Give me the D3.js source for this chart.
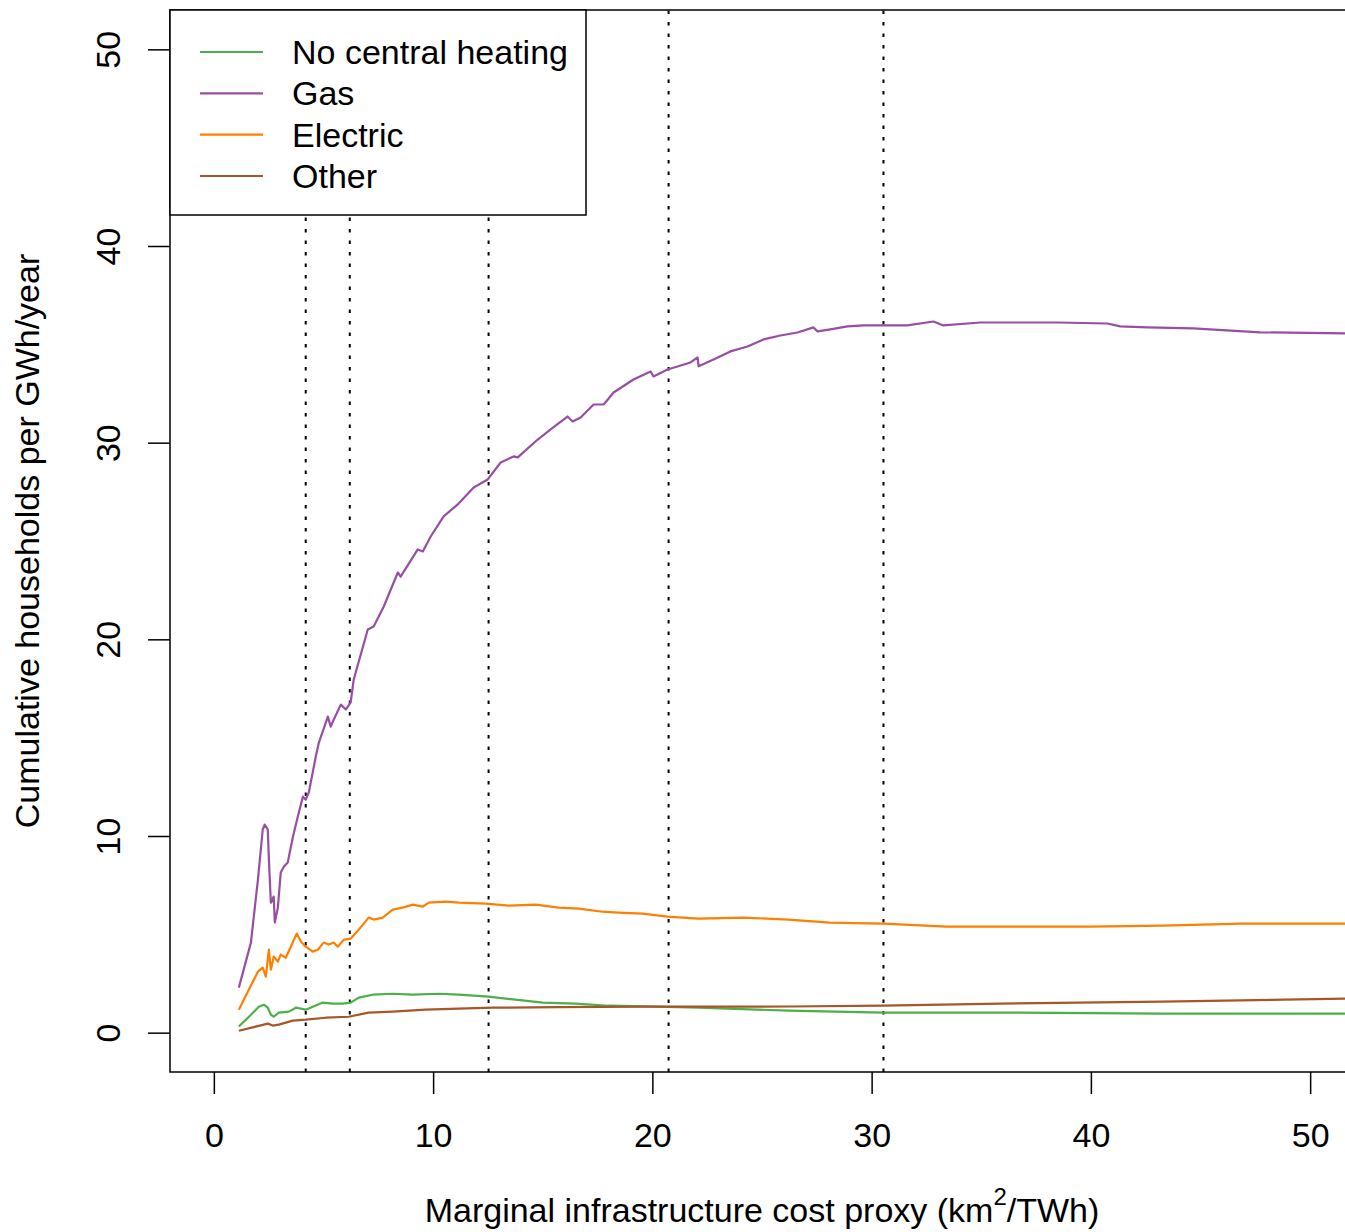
<!DOCTYPE html>
<html>
<head>
<meta charset="utf-8">
<script src="https://cdn.jsdelivr.net/npm/d3@7"></script>
<style>
  body { margin: 0; background: #fff; }
  svg { display: block; font-family: 'Liberation Sans', Arial, sans-serif; }
</style>
</head>
<body>
<div id="chart"></div>
<script>
// [x, y] pairs
const noCentral = [
  [1.14, 0.31], [1.60, 0.81], [2.05, 1.32], [2.28, 1.42], [2.46, 1.27], [2.60, 0.92],
  [2.73, 0.81], [2.96, 1.02], [3.42, 1.07], [3.74, 1.27], [4.19, 1.17], [4.51, 1.32],
  [4.97, 1.53], [5.42, 1.48], [5.88, 1.48], [6.24, 1.53], [6.61, 1.78], [7.25, 1.93],
  [8.16, 1.98], [9.07, 1.93], [10.26, 1.98], [11.17, 1.93], [12.53, 1.83], [13.76, 1.68],
  [15.00, 1.53], [16.50, 1.48], [18.00, 1.37], [19.69, 1.34], [22.11, 1.27], [26.21, 1.12],
  [30.54, 1.02], [35.87, 1.02], [43.25, 0.97], [52.5, 0.97]
]
const gas = [
  [1.14, 2.29], [1.69, 4.58], [2.01, 7.78], [2.23, 10.33], [2.32, 10.58], [2.46, 10.33],
  [2.51, 8.80], [2.60, 6.61], [2.73, 6.92], [2.78, 5.60], [2.92, 6.36], [3.05, 8.14],
  [3.19, 8.44], [3.37, 8.65], [3.60, 9.92], [3.83, 10.99], [4.06, 12.00], [4.19, 11.85],
  [4.33, 12.21], [4.65, 14.04], [4.79, 14.75], [5.20, 16.07], [5.33, 15.56], [5.47, 15.92],
  [5.79, 16.68], [6.02, 16.43], [6.24, 16.79], [6.38, 17.96], [7.02, 20.50], [7.29, 20.65],
  [7.75, 21.67], [8.39, 23.40], [8.52, 23.19], [9.30, 24.57], [9.53, 24.47], [9.89, 25.23],
  [10.48, 26.25], [11.12, 26.86], [11.85, 27.72], [12.49, 28.13], [13.08, 28.99], [13.67, 29.30],
  [13.86, 29.25], [14.77, 30.16], [15.36, 30.67], [16.13, 31.33], [16.36, 31.08], [16.73, 31.28],
  [17.32, 31.94], [17.78, 31.94], [18.23, 32.55], [19.14, 33.21], [19.92, 33.62], [20.05, 33.37],
  [20.69, 33.72], [21.74, 34.08], [22.06, 34.33], [22.11, 33.88], [22.79, 34.23], [23.56, 34.64],
  [24.34, 34.89], [25.07, 35.25], [25.84, 35.45], [26.62, 35.60], [27.35, 35.86], [27.53, 35.66],
  [28.12, 35.76], [28.90, 35.91], [29.63, 35.96], [30.54, 35.96], [31.63, 35.96], [32.82, 36.16],
  [33.27, 35.96], [34.96, 36.11], [38.47, 36.11], [40.75, 36.06], [41.34, 35.91], [42.57, 35.86],
  [44.67, 35.81], [47.72, 35.61], [52.5, 35.54]
]
const electric = [
  [1.14, 1.17], [1.60, 2.19], [2.01, 3.10], [2.23, 3.31], [2.37, 2.85], [2.51, 4.22],
  [2.60, 3.20], [2.73, 3.87], [2.92, 3.61], [3.05, 3.97], [3.28, 3.81], [3.51, 4.37],
  [3.78, 5.04], [3.97, 4.63], [4.19, 4.37], [4.51, 4.12], [4.74, 4.22], [5.01, 4.58],
  [5.24, 4.48], [5.47, 4.58], [5.65, 4.37], [5.93, 4.73], [6.24, 4.78], [6.61, 5.24],
  [7.06, 5.85], [7.29, 5.75], [7.70, 5.85], [8.16, 6.26], [8.61, 6.36], [9.07, 6.51],
  [9.53, 6.41], [9.80, 6.61], [10.57, 6.66], [11.17, 6.61], [12.40, 6.56], [13.45, 6.46],
  [14.68, 6.51], [15.72, 6.36], [16.64, 6.31], [17.73, 6.15], [18.46, 6.10], [19.55, 6.05],
  [20.69, 5.90], [22.11, 5.80], [24.16, 5.85], [26.21, 5.75], [28.08, 5.60], [30.54, 5.54],
  [33.41, 5.39], [36.87, 5.39], [39.97, 5.39], [43.25, 5.44], [46.90, 5.54], [52.5, 5.54]
]
const other = [
  [1.14, 0.10], [1.91, 0.31], [2.46, 0.46], [2.69, 0.36], [2.96, 0.41], [3.60, 0.61],
  [4.19, 0.66], [5.10, 0.76], [6.15, 0.81], [7.06, 1.02], [8.16, 1.07], [9.66, 1.17],
  [11.17, 1.22], [12.72, 1.27], [15.72, 1.30], [19.69, 1.32], [26.21, 1.33], [30.54, 1.37],
  [35.87, 1.48], [43.25, 1.58], [52.5, 1.75]
]

const seriesNames = ['No central heating', 'Gas', 'Electric', 'Other']
const seriesData = [noCentral, gas, electric, other]
const seriesColors = ['#4DAF4A', '#984EA3', '#FF7F00', '#A65628']

const cutoffs = [4.19, 6.20, 12.53, 20.74, 30.54]
const xTicks = [0, 10, 20, 30, 40, 50]
const yTicks = [0, 10, 20, 30, 40, 50]

const width = 1345
const height = 1232
const plotLeft = 170, plotRight = 1354, plotTop = 10, plotBottom = 1072
const fontSize = '34px'

const x = d3.scaleLinear().domain([-2, 52]).range([plotLeft, plotRight])
const y = d3.scaleLinear().domain([-2, 52]).range([plotBottom, plotTop])

const svg = d3.select('#chart')
  .append('svg')
  .attr('width', width)
  .attr('height', height)

svg.append('defs').append('clipPath')
  .attr('id', 'plotclip')
  .append('rect')
  .attr('x', plotLeft).attr('y', plotTop)
  .attr('width', plotRight - plotLeft).attr('height', plotBottom - plotTop)

// dotted cutoff lines
svg.append('g')
  .selectAll('line')
  .data(cutoffs)
  .enter()
  .append('line')
  .attr('x1', d => x(d)).attr('x2', d => x(d))
  .attr('y1', plotBottom).attr('y2', plotTop)
  .attr('stroke', '#000')
  .attr('stroke-width', 2)
  .attr('stroke-dasharray', '3.5 8')

const line = d3.line()
  .x(d => x(d[0]))
  .y(d => y(d[1]))

svg.append('g')
  .attr('clip-path', 'url(#plotclip)')
  .selectAll('path')
  .data(seriesData)
  .enter()
  .append('path')
  .attr('d', line)
  .attr('fill', 'none')
  .attr('stroke', (d, i) => seriesColors[i])
  .attr('stroke-width', 2.2)
  .attr('stroke-linejoin', 'round')

// axes
const xAxis = svg.append('g')
  .attr('transform', `translate(0,${plotBottom})`)
  .call(d3.axisBottom(x).tickValues(xTicks).tickSize(22).tickSizeOuter(0).tickFormat(d3.format('d')))
xAxis.select('.domain').remove()
xAxis.selectAll('line').attr('stroke', '#000').attr('stroke-width', 1.5)
xAxis.selectAll('text')
  .attr('y', 63).attr('dy', null)
  .attr('dominant-baseline', 'central')
  .attr('fill', '#000')
  .style('font-size', fontSize)
  .style('font-family', "'Liberation Sans', Arial, sans-serif")

const yAxis = svg.append('g')
  .attr('transform', `translate(${plotLeft},0)`)
  .call(d3.axisLeft(y).tickValues(yTicks).tickSize(22).tickSizeOuter(0).tickFormat(d3.format('d')))
yAxis.select('.domain').remove()
yAxis.selectAll('line').attr('stroke', '#000').attr('stroke-width', 1.5)
yAxis.selectAll('text')
  .attr('transform', 'rotate(-90)')
  .attr('x', 0).attr('y', -62).attr('dy', null)
  .attr('text-anchor', 'middle')
  .attr('dominant-baseline', 'central')
  .attr('fill', '#000')
  .style('font-size', fontSize)
  .style('font-family', "'Liberation Sans', Arial, sans-serif")

// plot box
svg.append('rect')
  .attr('x', plotLeft).attr('y', plotTop)
  .attr('width', plotRight - plotLeft).attr('height', plotBottom - plotTop)
  .attr('fill', 'none')
  .attr('stroke', '#000')
  .attr('stroke-width', 1.5)

// axis titles
const xTitle = svg.append('text')
  .attr('x', (x(0) + x(50)) / 2)
  .attr('y', 1210)
  .attr('text-anchor', 'middle')
  .attr('dominant-baseline', 'central')
  .style('font-size', fontSize)
xTitle.append('tspan').text('Marginal infrastructure cost proxy (km')
xTitle.append('tspan').attr('dy', -14).style('font-size', '24px').text('2')
xTitle.append('tspan').attr('dy', 14).text('/TWh)')

svg.append('text')
  .attr('transform', `translate(27,${(y(0) + y(50)) / 2}) rotate(-90)`)
  .attr('text-anchor', 'middle')
  .attr('dominant-baseline', 'central')
  .style('font-size', fontSize)
  .text('Cumulative households per GWh/year')

// legend
const legend = svg.append('g')
legend.append('rect')
  .attr('x', plotLeft).attr('y', plotTop)
  .attr('width', 416).attr('height', 205)
  .attr('fill', '#fff')
  .attr('stroke', '#000')
  .attr('stroke-width', 1.5)

const rowY = d3.scalePoint().domain(seriesNames).range([52, 176])

const rows = legend.selectAll('g.row')
  .data(seriesNames)
  .enter()
  .append('g')
  .attr('class', 'row')
  .attr('transform', d => `translate(0,${rowY(d)})`)

rows.append('line')
  .attr('x1', 200).attr('x2', 263)
  .attr('stroke', (d, i) => seriesColors[i])
  .attr('stroke-width', 2.2)

rows.append('text')
  .attr('x', 292)
  .attr('dominant-baseline', 'central')
  .style('font-size', fontSize)
  .text(d => d)
</script>
</body>
</html>
